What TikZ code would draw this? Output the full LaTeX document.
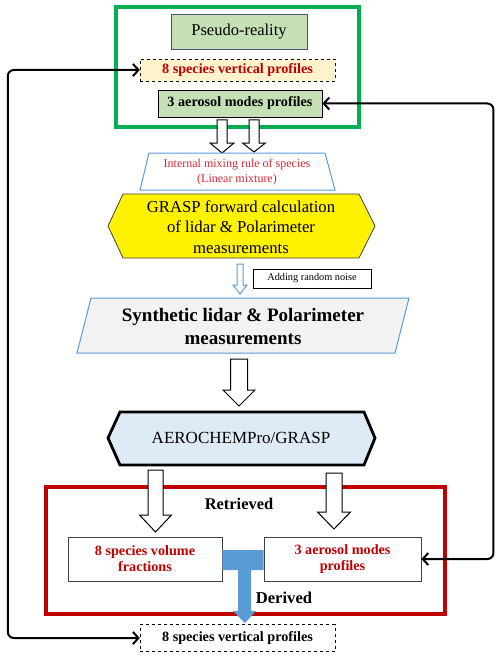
\documentclass[tikz,border=0pt]{standalone}
\usepackage{fontspec}
\setmainfont{Liberation Serif}
\usetikzlibrary{arrows.meta}

\definecolor{framegreen}{RGB}{0,176,80}
\definecolor{palegreen}{RGB}{197,224,180}
\definecolor{slateline}{RGB}{68,84,106}
\definecolor{paleorange}{RGB}{255,242,204}
\definecolor{textred}{RGB}{192,0,0}
\definecolor{lightred}{RGB}{215,40,50}
\definecolor{blueline}{RGB}{91,155,213}
\definecolor{paleblue}{RGB}{222,235,247}
\definecolor{palegray}{RGB}{242,242,242}
\definecolor{framered}{RGB}{192,0,0}

\tikzset{
    hollow/.style={draw=black, fill=white, line width=1pt},
    thinhollow/.style={draw=blueline, fill=white, line width=1pt},
    databox/.style={draw, inner sep=0pt, align=center},
    boldtext/.style={font=\bfseries\fontsize{14.2}{16}\selectfont},
    loopline/.style={line width=2pt, rounded corners=6pt,
        {Straight Barb[length=5.5pt,width=12pt]}-{Straight Barb[length=5.5pt,width=12pt]}},
}

% block arrow pointing down: style, x, top, neck, tip, shaft half, head half
\newcommand{\blockarrow}[7]{%
    \draw[#1] ({#2-#6},#3) -- ({#2+#6},#3) -- ({#2+#6},#4) -- ({#2+#7},#4)
        -- (#2,#5) -- ({#2-#7},#4) -- ({#2-#6},#4) -- cycle;}

\begin{document}
\begin{tikzpicture}[x=1pt, y=-1pt]
    \useasboundingbox (0,0) rectangle (500,658);

    % Pseudo-reality frame
    \draw[framegreen, line width=4.5pt] (116,7) rectangle (359,127);
    \node[databox, draw=slateline, fill=palegreen, line width=0.8pt,
        minimum width=136, minimum height=35, font=\fontsize{16.5}{19}\selectfont]
        (pseudo) at (239,31.5) {Pseudo-reality};
    \node[databox, dashed, fill=paleorange, minimum width=195, minimum height=22,
        text=textred, boldtext] (spvtop) at (237.5,70) {8 species vertical profiles};
    \node[databox, fill=palegreen, line width=0.8pt, minimum width=164, minimum height=27,
        boldtext] (modestop) at (240,103.5) {3 aerosol modes profiles};

    \blockarrow{hollow}{222}{120}{143}{153}{5}{12}
    \blockarrow{hollow}{254}{120}{143}{152}{5}{11.5}

    % Mixing rule
    \draw[blueline, fill=white, line width=1pt] (149,153) -- (325,153) -- (335,190) -- (140,190) -- cycle;
    \node[text=lightred, align=center, font=\fontsize{12}{15}\selectfont]
        (mixing) at (237,172) {Internal mixing rule of species\\(Linear mixture)};

    % Forward calculation
    \draw[fill=yellow, draw=black!75, line width=0.8pt]
        (108,226) -- (123,194) -- (359,194) -- (375,226) -- (359,258) -- (123,258) -- cycle;
    \node[align=center, font=\fontsize{16.7}{20.5}\selectfont]
        (forward) at (241,227) {GRASP forward calculation\\of lidar \& Polarimeter\\measurements};

    \blockarrow{thinhollow}{240}{264}{285}{294}{3}{7}
    \node[databox, line width=0.8pt, minimum width=118, minimum height=19,
        font=\fontsize{10.3}{12}\selectfont] (noise) at (312,278.5) {Adding random noise};

    % Synthetic measurements
    \draw[blueline, fill=palegray, line width=1pt] (91,298) -- (409,298) -- (395,353) -- (77,353) -- cycle;
    \node[align=center, font=\bfseries\fontsize{19}{23}\selectfont]
        (synthetic) at (243,327) {Synthetic lidar \& Polarimeter\\measurements};

    \blockarrow{hollow}{239}{359}{390}{406}{8.5}{16}

    % Retrieval
    \draw[fill=paleblue, line width=2.8pt, line join=miter]
        (108,438) -- (120,412) -- (364,412) -- (375,438) -- (364,465) -- (120,465) -- cycle;
    \node[font=\fontsize{17}{19}\selectfont] (retrieval) at (241,438) {AEROCHEMPro/GRASP};

    % Retrieved and derived
    \draw[framered, line width=4pt] (46,487) rectangle (445,614);
    \node[font=\bfseries\fontsize{16.4}{18}\selectfont] (retrieved) at (239,504) {Retrieved};
    \node[databox, draw=black!75, fill=white, line width=0.8pt, minimum width=154, minimum height=44,
        text=textred, boldtext] (fractions) at (145,559) {8 species volume\\fractions};
    \node[databox, draw=black!75, fill=white, line width=0.8pt, minimum width=157, minimum height=44,
        text=textred, boldtext] (modesbot) at (342.5,559) {3 aerosol modes\\profiles};

    \blockarrow{hollow}{155.5}{470}{515}{532}{7.5}{16}
    \blockarrow{hollow}{334}{473}{512}{529}{8}{16.5}

    \fill[blueline] (fractions.east |- 0,550) -- (modesbot.west |- 0,550) -- (modesbot.west |- 0,570)
        -- (251,570) -- (251,611) -- (256,611) -- (245,623) -- (233,611) -- (238,611) -- (238,570)
        -- (fractions.east |- 0,570) -- cycle;
    \node[font=\bfseries\fontsize{16.6}{18}\selectfont] (derived) at (284,598) {Derived};

    \node[databox, dashed, fill=white, minimum width=195, minimum height=27,
        boldtext] (spvbot) at (237.5,638) {8 species vertical profiles};

    % Feedback loops
    \draw[loopline] (spvtop.west) -- ++(-132,0) |- (spvbot.west);
    \draw[loopline] (modestop.east) -- ++(171,0) |- (modesbot.east);
\end{tikzpicture}
\end{document}
